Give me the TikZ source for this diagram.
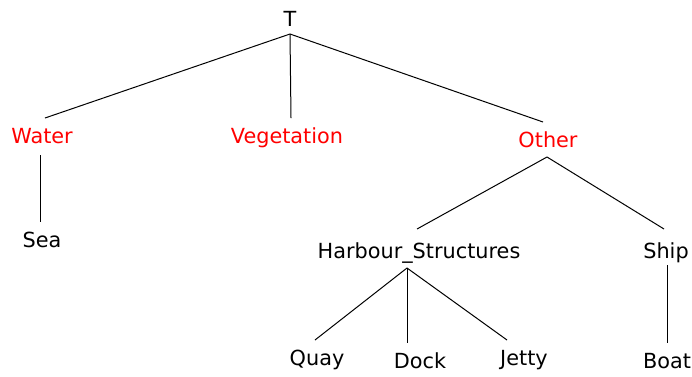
\documentclass[tikz,border=0pt]{standalone}
\usepackage{fontspec}
\setmainfont{DejaVu Sans}
\usepackage{tikz}
\usetikzlibrary{positioning,calc}
\usepackage{xcolor}

\tikzset{
    lbl/.style={anchor=base, inner sep=0pt, text height=15pt, text depth=0pt,
        outer xsep=0pt, outer ysep=10pt, font=\fontsize{20.8}{24}\selectfont},
    cat/.style={lbl, text=red},
    edge/.style={draw=black, line width=1pt}
}

\begin{document}
\begin{tikzpicture}[x=1pt, y=-1pt]
    \useasboundingbox (0,0) rectangle (692,376);

    % Root
    \node[lbl] (root) at (290, 26) {T};

    % Level 1 (categories)
    \node[cat] (water) at (42, 143) {Water};
    \node[cat] (veg) at (287, 143) {Vegetation};
    \node[cat] (other) at (548, 147) {Other};

    % Level 2
    \node[lbl] (sea) at (42, 247) {Sea};
    \node[lbl] (harbour) at (419, 258) {Harbour\_Structures};
    \node[lbl] (ship) at (666, 258) {Ship};

    % Level 3
    \node[lbl] (quay) at (317, 365) {Quay};
    \node[lbl] (dock) at (420, 368) {Dock};
    \node[lbl] (jetty) at (524, 365) {Jetty};
    \node[lbl] (boat) at (667, 368) {Boat};

    % Edges from root
    \draw[edge] ([yshift=2pt]root.south) -- ([xshift=3pt]water.north);
    \draw[edge] ([yshift=2pt]root.south) -- ([xshift=4pt]veg.north);
    \draw[edge] ([yshift=2pt]root.south) -- ([xshift=-5pt]other.north);

    % Edges below categories
    \draw[edge] ([xshift=-2pt, yshift=-2pt]water.south) -- ([xshift=-2pt]sea.north);
    \draw[edge] ([xshift=-1pt]other.south) -- ([xshift=-2pt, yshift=4pt]harbour.north);
    \draw[edge] ([xshift=-1pt]other.south) -- ([xshift=-2pt, yshift=4pt]ship.north);

    % Edges to leaves
    \draw[edge] ([xshift=-12pt]harbour.south) -- ([xshift=-2pt]quay.north);
    \draw[edge] ([xshift=-12pt]harbour.south) -- ([xshift=-13pt]dock.north);
    \draw[edge] ([xshift=-12pt]harbour.south) -- ([xshift=-17pt]jetty.north);
    \draw[edge] ([xshift=1pt, yshift=3pt]ship.south) -- (boat.north);

\end{tikzpicture}
\end{document}
